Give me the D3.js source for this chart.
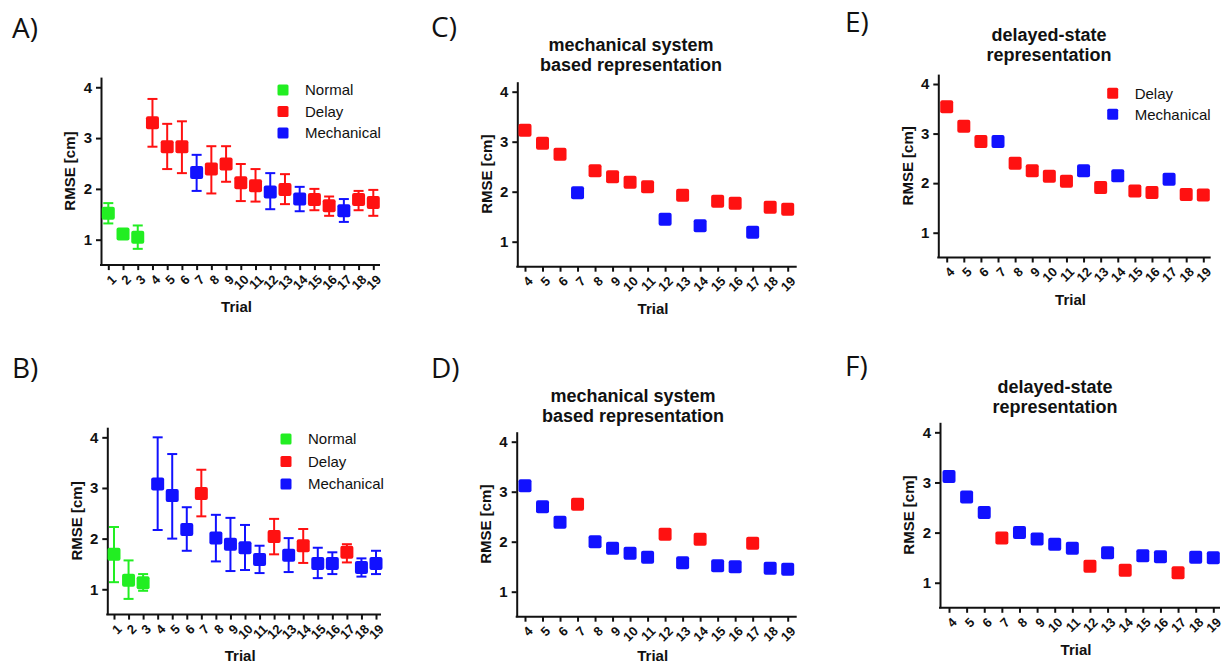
<!DOCTYPE html>
<html lang="en">
<head>
  <meta charset="UTF-8">
  <title>RMSE by trial</title>
  <script src="https://d3js.org/d3.v7.min.js"></script>
  <style>
    body { margin: 0; background: #fff; }
    text { font-family: "Liberation Sans", Arial, sans-serif; fill: #111; }
    .axis path, .axis line { stroke: #111; stroke-width: 2; }
    .axis text { font-weight: bold; }
    .ylab, .xlab, .title { font-weight: bold; font-size: 15px; }
    .title { font-size: 18px; }
    .panel-label { font-family: "Open Sans", sans-serif; font-size: 28px; }
    .legend text { font-size: 15px; }
  </style>
</head>
<body>
  <div id="chart"></div>
  <script>
    // trials
    const trialsFull = [1, 2, 3, 4, 5, 6, 7, 8, 9, 10, 11, 12, 13, 14, 15, 16, 17, 18, 19];
    const trialsLate = [4, 5, 6, 7, 8, 9, 10, 11, 12, 13, 14, 15, 16, 17, 18, 19];
    const yTicks = [1, 2, 3, 4];

    // N = Normal, D = Delay, M = Mechanical
    const groupA = ["N","N","N","D","D","D","M","D","D","D","D","M","D","M","D","D","M","D","D"];
    const meanA  = [1.52, 1.11, 1.05, 3.30, 2.83, 2.83, 2.32, 2.39, 2.49, 2.12, 2.06, 1.94, 1.99, 1.80, 1.79, 1.67, 1.57, 1.79, 1.73];
    const hiA    = [1.72, 1.19, 1.28, 3.77, 3.28, 3.33, 2.67, 2.84, 2.84, 2.49, 2.39, 2.31, 2.29, 2.04, 2.00, 1.85, 1.80, 1.96, 1.98];
    const loA    = [1.32, 1.03, 0.82, 2.83, 2.39, 2.31, 1.96, 1.91, 2.14, 1.76, 1.75, 1.60, 1.70, 1.56, 1.58, 1.47, 1.35, 1.58, 1.47];

    const groupB = ["N","N","N","M","M","M","D","M","M","M","M","D","M","D","M","M","D","M","M"];
    const meanB  = [1.69, 1.18, 1.13, 3.08, 2.85, 2.18, 2.89, 2.01, 1.89, 1.82, 1.59, 2.04, 1.67, 1.86, 1.51, 1.51, 1.73, 1.43, 1.51];
    const hiB    = [2.23, 1.57, 1.30, 4.00, 3.67, 2.62, 3.36, 2.47, 2.41, 2.27, 1.86, 2.39, 2.01, 2.19, 1.82, 1.73, 1.89, 1.61, 1.76];
    const loB    = [1.14, 0.81, 0.97, 2.17, 2.00, 1.76, 2.44, 1.55, 1.36, 1.38, 1.32, 1.69, 1.34, 1.52, 1.22, 1.30, 1.53, 1.25, 1.30];

    const groupC = ["D","D","D","M","D","D","D","D","M","D","M","D","D","M","D","D"];
    const meanC  = [3.23, 2.97, 2.75, 1.98, 2.42, 2.30, 2.19, 2.10, 1.45, 1.93, 1.32, 1.81, 1.77, 1.19, 1.69, 1.65];

    const groupD = ["M","M","M","D","M","M","M","M","D","M","D","M","M","D","M","M"];
    const meanD  = [3.12, 2.70, 2.39, 2.75, 2.00, 1.87, 1.77, 1.69, 2.15, 1.58, 2.05, 1.52, 1.50, 1.97, 1.47, 1.45];

    const groupE = ["D","D","D","M","D","D","D","D","M","D","M","D","D","M","D","D"];
    const meanE  = [3.54, 3.15, 2.84, 2.84, 2.40, 2.25, 2.14, 2.04, 2.25, 1.91, 2.15, 1.84, 1.81, 2.08, 1.77, 1.76];

    const groupF = ["M","M","M","D","M","M","M","M","D","M","D","M","M","D","M","M"];
    const meanF  = [3.12, 2.71, 2.40, 1.89, 2.00, 1.87, 1.77, 1.69, 1.33, 1.60, 1.25, 1.54, 1.52, 1.20, 1.51, 1.50];

    const groupNames = { N: "Normal", D: "Delay", M: "Mechanical" };
    const color = { N: "#22ee22", D: "#ff1111", M: "#1111ff" };

    const W = 1226, H = 663;
    const svg = d3.select("#chart").append("svg")
      .attr("width", W).attr("height", H);
    svg.append("rect").attr("width", W).attr("height", H).attr("fill", "#fff");

    const panels = [
      { label: "A)", lx: 12, ly: 38, ax: 101, xEnd: 380, top: 77.1, bottom: 265.1, x0: 108.3, x1: 373.3,
        trials: trialsFull, group: groupA, mean: meanA, hi: hiA, lo: loA,
        legend: ["N", "D", "M"], legX: 283, legY: 90, legStep: 21.5 },
      { label: "B)", lx: 12, ly: 378, ax: 107.3, xEnd: 381, top: 427.2, bottom: 614.6, x0: 114, x1: 376,
        trials: trialsFull, group: groupB, mean: meanB, hi: hiB, lo: loB,
        legend: ["N", "D", "M"], legX: 286, legY: 439, legStep: 22.5 },
      { label: "C)", lx: 431, ly: 37, ax: 517.3, xEnd: 796.7, top: 81.7, bottom: 266.7, x0: 525, x1: 787.7,
        trials: trialsLate, group: groupC, mean: meanC,
        title: ["mechanical system", "based representation"], tx: 631, ty: 51 },
      { label: "D)", lx: 431, ly: 378, ax: 516.7, xEnd: 796.7, top: 431.7, bottom: 616.7, x0: 525, x1: 787.7,
        trials: trialsLate, group: groupD, mean: meanD,
        title: ["mechanical system", "based representation"], tx: 633, ty: 402 },
      { label: "E)", lx: 845, ly: 32, ax: 938.3, xEnd: 1210.7, top: 74.1, bottom: 257.5, x0: 946.7, x1: 1203.3,
        trials: trialsLate, group: groupE, mean: meanE,
        title: ["delayed-state", "representation"], tx: 1049, ty: 41,
        legend: ["D", "M"], legX: 1112.7, legY: 93.3, legStep: 21 },
      { label: "F)", lx: 845, ly: 376, ax: 940, xEnd: 1220, top: 422.3, bottom: 607.8, x0: 949, x1: 1213.3,
        trials: trialsLate, group: groupF, mean: meanF,
        title: ["delayed-state", "representation"], tx: 1055, ty: 393 }
    ];

    panels.forEach(p => {
      const g = svg.append("g");
      const x = d3.scaleLinear()
        .domain([p.trials[0], p.trials[p.trials.length - 1]])
        .range([p.x0, p.x1]);
      const y = d3.scaleLinear().domain([0.5, 4.2]).range([p.bottom, p.top]);

      // panel label
      g.append("text").attr("class", "panel-label")
        .attr("x", p.lx).attr("y", p.ly).text(p.label);

      // title
      if (p.title) {
        p.title.forEach((t, i) => {
          g.append("text").attr("class", "title")
            .attr("x", p.tx).attr("y", p.ty + i * 20)
            .attr("text-anchor", "middle").text(t);
        });
      }

      // y axis
      const yAxis = g.append("g").attr("class", "axis")
        .attr("transform", `translate(${p.ax},0)`)
        .call(d3.axisLeft(y).tickValues(yTicks).tickFormat(d3.format("d"))
          .tickSizeInner(5).tickSizeOuter(0).tickPadding(4));
      yAxis.selectAll("text").style("font-size", "15px");

      // x axis
      const xAxis = g.append("g").attr("class", "axis")
        .attr("transform", `translate(0,${p.bottom})`)
        .call(d3.axisBottom(x).tickValues(p.trials).tickFormat(d3.format("d")).tickSizeInner(5).tickSizeOuter(0));
      xAxis.select(".domain").remove();
      xAxis.append("line")
        .attr("x1", p.ax - 1).attr("x2", p.xEnd).attr("y1", 0).attr("y2", 0)
        .attr("stroke", "#111").attr("stroke-width", 2);
      xAxis.selectAll(".tick text")
        .attr("y", 0).attr("dy", "0.35em")
        .attr("text-anchor", "end")
        .attr("transform", "translate(5,12) rotate(-45)")
        .style("font-size", "13px");

      // axis titles
      g.append("text").attr("class", "ylab")
        .attr("transform", `translate(${p.ax - 31},${(p.top + p.bottom) / 2}) rotate(-90)`)
        .attr("text-anchor", "middle").attr("dy", "0.35em").text("RMSE [cm]");
      g.append("text").attr("class", "xlab")
        .attr("x", (p.ax + p.xEnd) / 2 - 4).attr("y", Math.min(p.bottom + 47, H - 2))
        .attr("text-anchor", "middle").text("Trial");

      const pts = p.trials.map((t, i) => ({
        trial: t, group: p.group[i], mean: p.mean[i],
        hi: p.hi ? p.hi[i] : null, lo: p.lo ? p.lo[i] : null
      }));

      // error bars
      if (p.hi) {
        const eb = g.selectAll(".err").data(pts).enter().append("g")
          .attr("stroke", d => color[d.group]).attr("stroke-width", 2);
        eb.append("line")
          .attr("x1", d => x(d.trial)).attr("x2", d => x(d.trial))
          .attr("y1", d => y(d.hi)).attr("y2", d => y(d.lo));
        eb.append("line")
          .attr("x1", d => x(d.trial) - 5).attr("x2", d => x(d.trial) + 5)
          .attr("y1", d => y(d.hi)).attr("y2", d => y(d.hi));
        eb.append("line")
          .attr("x1", d => x(d.trial) - 5).attr("x2", d => x(d.trial) + 5)
          .attr("y1", d => y(d.lo)).attr("y2", d => y(d.lo));
      }

      // markers
      const s = 13;
      g.selectAll(".pt").data(pts).enter().append("rect")
        .attr("x", d => x(d.trial) - s / 2).attr("y", d => y(d.mean) - s / 2)
        .attr("width", s).attr("height", s).attr("rx", 2)
        .attr("fill", d => color[d.group]);

      // legend
      if (p.legend) {
        const lg = g.append("g").attr("class", "legend");
        p.legend.forEach((k, i) => {
          const cy = p.legY + i * p.legStep;
          lg.append("rect").attr("x", p.legX - 5.5).attr("y", cy - 5.5)
            .attr("width", 11).attr("height", 11).attr("rx", 1.5).attr("fill", color[k]);
          lg.append("text").attr("x", p.legX + 22).attr("y", cy)
            .attr("dy", "0.35em").text(groupNames[k]);
        });
      }
    });
  </script>
</body>
</html>
